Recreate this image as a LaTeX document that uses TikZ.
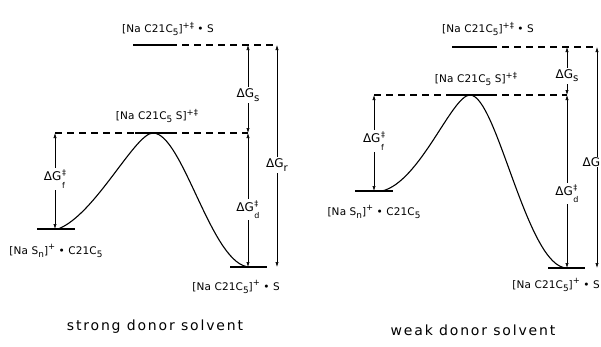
\documentclass[tikz,border=0pt]{standalone}
\usepackage{fontspec}
\usepackage{graphicx}
\setmainfont{DejaVu Sans}
\usetikzlibrary{arrows.meta}
\newcommand{\sbs}[1]{\raisebox{-0.55ex}{\scalebox{0.85}{#1}}}
\newcommand{\sps}[1]{\raisebox{0.75ex}{\scalebox{0.8}{#1}}}
\newcommand{\dgsub}[2]{ΔG\kern0.5pt\raisebox{-1.1ex}{\fontsize{8}{8}\selectfont\shortstack[l]{#1\\[2.5pt]#2}}}
\begin{document}
\begin{tikzpicture}[x=1pt,y=-1pt,
  level/.style={line width=1.8pt},
  dashline/.style={dash pattern=on 7pt off 5pt, line width=1.1pt},
  curve/.style={line width=1.1pt},
  gaparrow/.style={line width=0.6pt, {Latex[length=5pt,width=3.2pt]}-{Latex[length=5pt,width=3.2pt]}},
  lbl/.style={font=\fontsize{10.5}{12}\selectfont\addfontfeatures{LetterSpace=1.5}, inner sep=1pt},
  dg/.style={font=\fontsize{12}{13}\selectfont, fill=white, inner sep=1.5pt},
  captext/.style={font=\fontsize{14}{16}\selectfont\addfontfeatures{LetterSpace=13}, inner sep=0pt}
]
\useasboundingbox (0,0) rectangle (601,346);

% ---------------- left panel ----------------
\coordinate (LTa) at (133,45);  \coordinate (LTb) at (170,45);  \coordinate (LTr) at (277,45);
\coordinate (LMl) at (55,133);  \coordinate (LMa) at (135,133); \coordinate (LMb) at (170,133);
\coordinate (LMr) at (248,133); \coordinate (LMp) at (153,133);
\coordinate (LSa) at (37,229);  \coordinate (LSb) at (75,229);  \coordinate (LSs) at (58,229);
\coordinate (LSf) at (55,229);
\coordinate (LPa) at (230,267); \coordinate (LPb) at (267,267); \coordinate (LPe) at (250,267);
\coordinate (LPd) at (248,267); \coordinate (LPr) at (277,267); \coordinate (LTs) at (248,45);

\draw[level] (LTa) -- (LTb);
\draw[dashline] (LTb) -- (LTr);
\draw[level] (LMa) -- (LMb);
\draw[dashline] (LMl) -- (LMa);
\draw[dashline] (LMb) -- (LMr);
\draw[level] (LSa) -- (LSb);
\draw[level] (LPa) -- (LPb);

\draw[curve] (LSs) .. controls (95,215) and (135,133) .. (LMp)
                  .. controls (183,133) and (212,267) .. (LPe);

\draw[gaparrow] (LMl) -- node[dg, pos=0.48] {\dgsub{‡}{f}} (LSf);
\draw[gaparrow] (LTs) -- node[dg, pos=0.57] {ΔG\sbs{s}} (LMr);
\draw[gaparrow] (LMr) -- node[dg, pos=0.57] {\dgsub{‡}{d}} (LPd);
\draw[gaparrow] (LTr) -- node[dg, pos=0.54] {ΔG\sbs{r}} (LPr);

\node[lbl] (lt) at (168,29) {[Na C21C\sbs{5}]\sps{+‡} • S};
\node[lbl] (lm) at (157,116) {[Na C21C\sbs{5} S]\sps{+‡}};
\node[lbl] (ls) at (56,251) {[Na S\sbs{n}]\sps{+} • C21C\sbs{5}};
\node[lbl] (lp) at (236,287) {[Na C21C\sbs{5}]\sps{+} • S};
\node[captext] (lc) at (155,327) {strong donor solvent};

% ---------------- right panel ----------------
\coordinate (RTa) at (452,47);  \coordinate (RTb) at (490,47);  \coordinate (RTr) at (597,47);
\coordinate (RMl) at (374,95);  \coordinate (RMa) at (452,95);  \coordinate (RMb) at (490,95);
\coordinate (RMr) at (567,95);  \coordinate (RMp) at (470,95);
\coordinate (RSa) at (355,191); \coordinate (RSb) at (393,191); \coordinate (RSs) at (382,191);
\coordinate (RSf) at (374,191);
\coordinate (RPa) at (548,268); \coordinate (RPb) at (585,268); \coordinate (RPe) at (567,268);
\coordinate (RPr) at (597,268); \coordinate (RTs) at (567,47);

\draw[level] (RTa) -- (RTb);
\draw[dashline] (RTb) -- (RTr);
\draw[level] (RMa) -- (RMb);
\draw[dashline] (RMl) -- (RMa);
\draw[dashline] (RMb) -- (RMr);
\draw[level] (RSa) -- (RSb);
\draw[level] (RPa) -- (RPb);

\draw[curve] (RSs) .. controls (420,182) and (452,95) .. (RMp)
                  .. controls (497,95) and (527,268) .. (RPe);

\draw[gaparrow] (RMl) -- node[dg, pos=0.48] {\dgsub{‡}{f}} (RSf);
\draw[gaparrow] (RTs) -- node[dg, pos=0.6] {ΔG\sbs{s}} (RMr);
\draw[gaparrow] (RMr) -- node[dg, pos=0.57] {\dgsub{‡}{d}} (RPe);
\draw[gaparrow] (RTr) -- node[dg, pos=0.52, anchor=east, xshift=4pt, inner sep=0.5pt] {ΔG} (RPr);

\node[lbl] (rt) at (488,29) {[Na C21C\sbs{5}]\sps{+‡} • S};
\node[lbl] (rm) at (476,79) {[Na C21C\sbs{5} S]\sps{+‡}};
\node[lbl] (rs) at (374,212) {[Na S\sbs{n}]\sps{+} • C21C\sbs{5}};
\node[lbl] (rp) at (556,285) {[Na C21C\sbs{5}]\sps{+} • S};
\node[captext] (rc) at (473,330) {weak donor solvent};
\end{tikzpicture}
\end{document}
